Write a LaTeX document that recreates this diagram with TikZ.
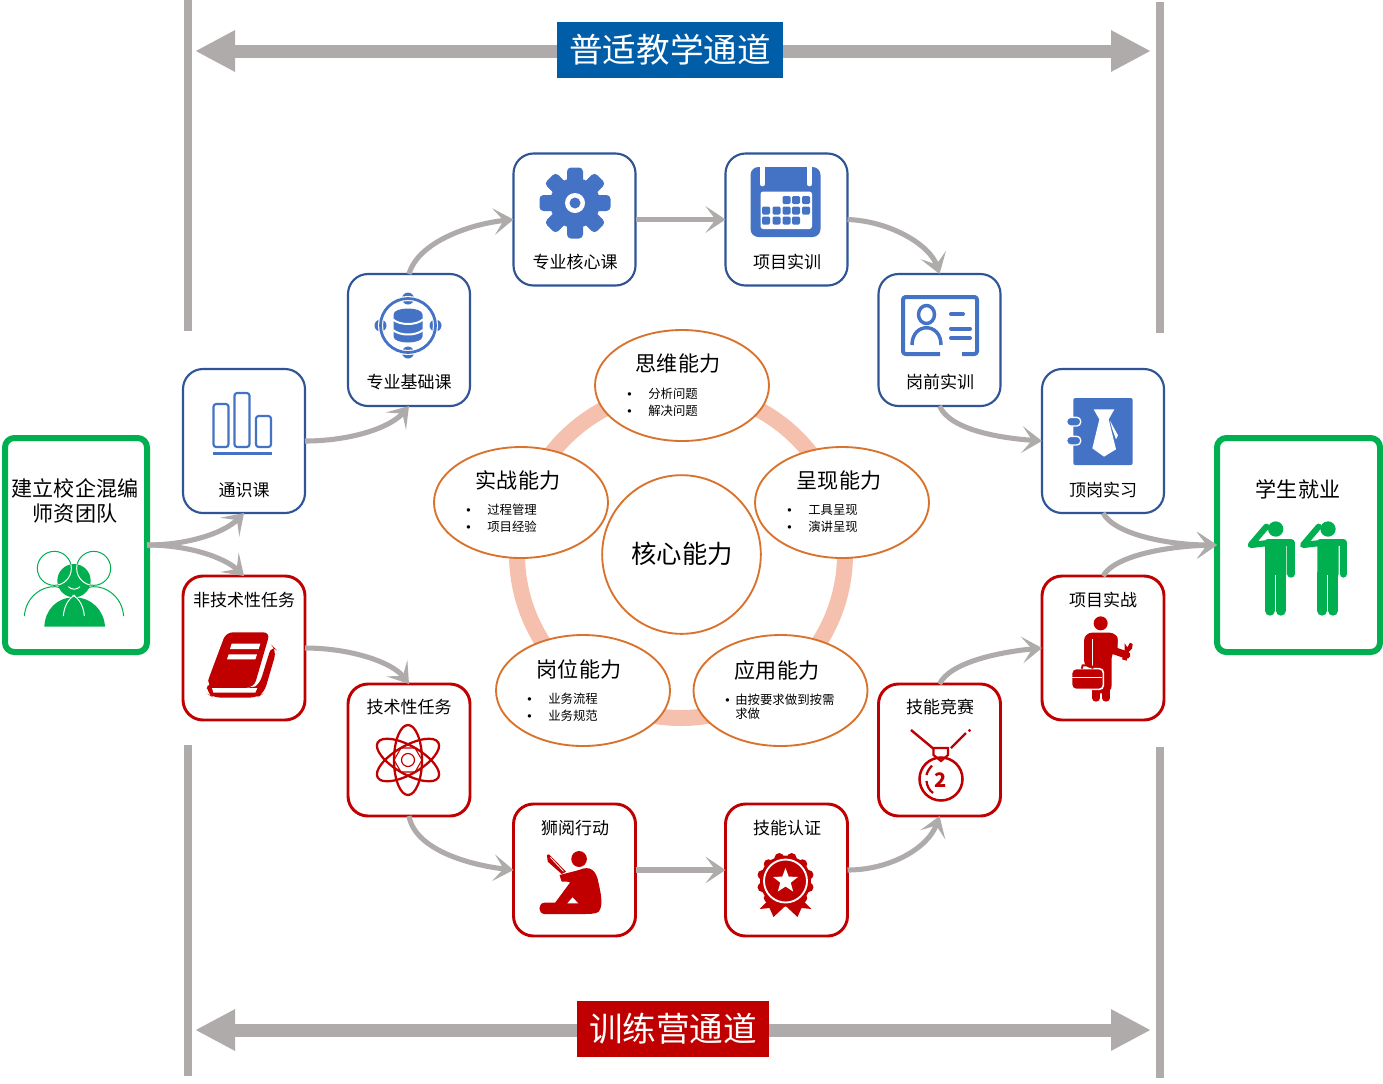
\documentclass[tikz,border=0pt]{standalone}
\usepackage{fontspec}
\setmainfont{Noto Sans CJK SC}
\newfontfamily\latinf{Liberation Sans}
\usetikzlibrary{arrows.meta,shapes.geometric}
\definecolor{grayline}{HTML}{AFABAB}
\definecolor{ringc}{HTML}{F5C0AE}
\definecolor{orangec}{HTML}{D9722C}
\definecolor{bluebd}{HTML}{2F5597}
\definecolor{blueic}{HTML}{4472C4}
\definecolor{redc}{HTML}{C00000}
\definecolor{greenc}{HTML}{00B050}
\definecolor{banblue}{HTML}{005DA8}
\newcommand{\itemrow}[1]{\makebox[15.75pt][l]{\latinf •}#1}
\tikzset{
  bluebox/.style={draw=bluebd,line width=1.6pt,fill=white,rounded corners=15pt,inner sep=0pt,outer sep=0pt},
  redbox/.style={draw=redc,line width=2.2pt,fill=white,rounded corners=15pt,inner sep=0pt,outer sep=0pt},
  greenbox/.style={draw=greenc,line width=4.5pt,fill=white,rounded corners=7pt,inner sep=0pt,outer sep=0pt},
  tallbox/.style={minimum width=91.5pt,minimum height=108pt},
  shortbox/.style={minimum width=91.5pt,minimum height=99pt},
  boxlabel/.style={font=\fontsize{12.75}{15}\selectfont,inner sep=0pt},
  biglabel/.style={font=\fontsize{15.8}{18.75}\selectfont,inner sep=0pt,align=center},
  itemtext/.style={font=\fontsize{9.3}{12.75}\selectfont,inner sep=0pt,align=left,anchor=west},
  capell/.style={shape=ellipse,draw=orangec,line width=1.4pt,fill=white,minimum width=130.5pt,minimum height=83.25pt,inner sep=0pt,outer sep=0pt},
  flow/.style={draw=grayline,line width=3.8pt,-{Stealth[length=15pt,width=20pt,inset=7.5pt]}},
  wide/.style={draw=grayline,line width=9.75pt,{Triangle[length=30pt,width=29pt]}-{Triangle[length=30pt,width=29pt]}},
  bar/.style={draw=grayline,line width=6pt},
  banner/.style={text=white,inner sep=0pt,outer sep=0pt,font=\fontsize{25.2}{30}\selectfont},
}
\begin{document}
\begin{tikzpicture}[x=0.75pt,y=-0.75pt]
\useasboundingbox (0,0) rectangle (1383,1083);
\fill[white] (0,0) rectangle (1383,1083);
% vertical bars
\coordinate (b1a) at (188,0);\coordinate (b1b) at (188,331);
\coordinate (b2a) at (1160,2);\coordinate (b2b) at (1160,333);
\coordinate (b3a) at (188,745);\coordinate (b3b) at (188,1076);
\coordinate (b4a) at (1160,747);\coordinate (b4b) at (1160,1078);
\draw[bar] (b1a)--(b1b); \draw[bar] (b2a)--(b2b); \draw[bar] (b3a)--(b3b); \draw[bar] (b4a)--(b4b);
% wide arrows
\coordinate (ta) at (195,51);\coordinate (tb) at (1151,51);
\coordinate (ua) at (195,1030);\coordinate (ub) at (1151,1030);
\draw[wide] (ta)--(tb); \draw[wide] (ua)--(ub);
\node[banner,fill=banblue,minimum width=169.5pt,minimum height=42pt] (topban) at (670,50) {普适教学通道};
\node[banner,fill=redc,minimum width=144pt,minimum height=42pt] (botban) at (673,1029) {训练营通道};
% ring and capability ellipses
\draw[ringc,line width=12pt] (681,554) circle [radius=164];
\node[capell] (e1) at (682,385.5) {};
\node[capell] (e2) at (521,502.5) {};
\node[capell] (e3) at (842,502.5) {};
\node[capell] (e4) at (583,690.5) {};
\node[capell] (e5) at (780.5,690.5) {};
\node[shape=circle,draw=orangec,line width=1.4pt,fill=white,minimum size=119pt,inner sep=0pt] (core) at (681.5,554.5) {};
\node[inner sep=0pt,font=\fontsize{19}{23}\selectfont] (coret) at (682,554) {核心能力};
\node[biglabel] (e1t) at (678,364) {思维能力};
\node[biglabel] (e2t) at (518,480) {实战能力};
\node[biglabel] (e3t) at (839,480) {呈现能力};
\node[biglabel] (e4t) at (579,669) {岗位能力};
\node[biglabel] (e5t) at (777,670) {应用能力};
\node[itemtext] (e1i) at (627,402.5) {\itemrow{分析问题}\\\itemrow{解决问题}};
\node[itemtext] (e2i) at (466,518.5) {\itemrow{过程管理}\\\itemrow{项目经验}};
\node[itemtext] (e3i) at (787,518.5) {\itemrow{工具呈现}\\\itemrow{演讲呈现}};
\node[itemtext] (e4i) at (527,707) {\itemrow{业务流程}\\\itemrow{业务规范}};
\node[itemtext,font=\fontsize{9.3}{10.5}\selectfont] (e5i) at (725,707) {\makebox[7.5pt][l]{\latinf •}由按要求做到按需\\\hspace*{7.5pt}求做};
% boxes
\node[greenbox,minimum width=106.5pt,minimum height=160.5pt] (lead) at (76,545) {};
\node[greenbox,minimum width=122.25pt,minimum height=160.5pt] (job) at (1298.5,545) {};
\node[bluebox,tallbox] (b1) at (244,441) {};
\node[bluebox,shortbox] (b2) at (409,340) {};
\node[bluebox,shortbox] (b3) at (574.5,219.5) {};
\node[bluebox,shortbox] (b4) at (786.5,219.5) {};
\node[bluebox,shortbox] (b5) at (939.5,340) {};
\node[bluebox,tallbox] (b6) at (1103,441) {};
\node[redbox,tallbox] (r1) at (244,648) {};
\node[redbox,shortbox] (r2) at (409,750) {};
\node[redbox,shortbox] (r3) at (574.5,870) {};
\node[redbox,shortbox] (r4) at (786.5,870) {};
\node[redbox,shortbox] (r5) at (939.5,750) {};
\node[redbox,tallbox] (r6) at (1103,648) {};
% box labels
\node[biglabel] (leadt) at (75,501) {建立校企混编\\师资团队};
\node[biglabel] (jobt) at (1298,489) {学生就业};
\node[boxlabel] (t1) at (244,490) {通识课};
\node[boxlabel] (t2) at (409,382) {专业基础课};
\node[boxlabel] (t3) at (575,262) {专业核心课};
\node[boxlabel] (t4) at (787,262) {项目实训};
\node[boxlabel] (t5) at (940,382) {岗前实训};
\node[boxlabel] (t6) at (1103,490) {顶岗实习};
\node[boxlabel] (t7) at (244,600) {非技术性任务};
\node[boxlabel] (t8) at (409,707) {技术性任务};
\node[boxlabel] (t9) at (575,828) {狮阅行动};
\node[boxlabel] (t10) at (787,828) {技能认证};
\node[boxlabel] (t11) at (940,707) {技能竞赛};
\node[boxlabel] (t12) at (1103,600) {项目实战};
% connectors
\draw[flow] (lead.east) .. controls (190,545) and (225,532) .. (b1.south);
\draw[flow] (lead.east) .. controls (190,545) and (225,558) .. (r1.north);
\draw[flow] (b1.east) .. controls (350,441) and (390,428) .. (b2.south);
\draw[flow] (b2.north) .. controls (418,242) and (470,224) .. (b3.west);
\draw[flow] (b3.east) -- (b4.west);
\draw[flow] (b4.east) .. controls (890,221) and (930,245) .. (b5.north);
\draw[flow] (b5.south) .. controls (950,430) and (1000,438) .. (b6.west);
\draw[flow] (b6.south) .. controls (1115,535) and (1170,545) .. (job.west);
\draw[flow] (r6.north) .. controls (1115,555) and (1170,546) .. (job.west);
\draw[flow] (r1.east) .. controls (350,648) and (392,662) .. (r2.north);
\draw[flow] (r2.south) .. controls (415,850) and (470,865) .. (r3.west);
\draw[flow] (r3.east) -- (r4.west);
\draw[flow] (r4.east) .. controls (890,870) and (928,848) .. (r5.south);
\draw[flow] (r5.north) .. controls (950,662) and (1000,652) .. (r6.west);
% ---- icons ----
% bar chart
\begin{scope}[draw=blueic,line width=1.6pt]
\draw[rounded corners=2pt] (213.5,404) rectangle (228.5,447);
\draw[rounded corners=2pt] (234.5,393) rectangle (249.5,447);
\draw[rounded corners=2pt] (256,416) rectangle (271,447);
\draw[line width=1.6pt] (213,453.5)--(272,453.5);
\end{scope}
% database
\begin{scope}[shift={(408,325.5)}]
\foreach \p in {(0,-27),(0,27),(-27.5,0),(27.5,0)} \fill[blueic] \p circle [radius=6];
\draw[white,line width=3.8pt] (0,0) ellipse [x radius=27.5,y radius=27];
\draw[blueic,line width=2.1pt] (0,0) ellipse [x radius=27.5,y radius=27];
\fill[blueic] (-14.5,-11) .. controls (-14.5,-19) and (14.5,-19) .. (14.5,-11) -- (14.5,11) .. controls (14.5,19) and (-14.5,19) .. (-14.5,11) -- cycle;
\draw[white,line width=1.5pt] (-15,-6) .. controls (-8,0) and (8,0) .. (15,-6);
\draw[white,line width=1.5pt] (-15,4.5) .. controls (-8,10.5) and (8,10.5) .. (15,4.5);
\end{scope}
% gear
\begin{scope}[shift={(575,203)}]
\foreach \a in {0,45,...,315} \fill[blueic,rotate=\a,rounded corners=3pt] (0,-8) -- (35.5,-8) -- (35.5,8) -- (0,8) -- cycle;
\fill[blueic] (0,0) circle [radius=25];
\fill[white] (0,0) circle [radius=10];
\fill[blueic] (0,0) circle [radius=5.5];
\end{scope}
% calendar
\fill[blueic,rounded corners=6pt] (750.5,167) rectangle (820.5,237);
\draw[white,line width=3.5pt,line cap=round] (762.5,162) -- (762.5,184);
\draw[white,line width=3.5pt,line cap=round] (809.5,162) -- (809.5,184);
\fill[white,rounded corners=2pt] (760.5,191.5) rectangle (812,229);
\foreach \x/\y in {786.5/200,796/200,806/200,766/210.5,776.5/210.5,786.5/210.5,796/210.5,806/210.5,766/220.5,776.5/220.5,786.5/220.5,796/220.5}
  \fill[blueic,rounded corners=1pt] (\x-4,\y-4) rectangle (\x+4,\y+4);
% ID card
\begin{scope}[draw=blueic]
\draw[line width=3pt,line join=round,rounded corners=2pt] (940,354) -- (903,354) -- (903,297) -- (977,297) -- (977,354) -- (962,354);
\draw[line width=2.6pt] (926.5,314.5) ellipse [x radius=8,y radius=9];
\draw[line width=2.6pt] (912,345) .. controls (912,322) and (941,322) .. (941,345);
\draw[line width=3pt,line cap=round] (951,314) -- (963,314);
\draw[line width=3pt,line cap=round] (951,328.5) -- (970,328.5);
\draw[line width=3pt,line cap=round] (951,338) -- (970,338);
\end{scope}
% tie notebook
\begin{scope}[shift={(1030,360)},x=.25pt,y=-.25pt]
\fill[blueic,rounded corners=1.5pt] (130,114) rectangle (308,315);
\foreach \yy in {185,242} {
  \draw[white,line width=1pt,fill=blueic,rounded corners=2.9pt] (110,\yy-13) rectangle (152,\yy+13);
}
\fill[white] (191,148) -- (253,148) -- (236,178) -- (258,268) -- (222,290) -- (187,265) -- (208,178) -- cycle;
\fill[white] (240,182) -- (264,226) -- (258,238) -- (246,205) -- cycle;
\end{scope}
% two saluting figures
\begin{scope}[shift={(1030,360)},x=.25pt,y=-.25pt]
\foreach \dx in {0,157} {
\begin{scope}[shift={(\dx,0)},x=.25pt,y=-.25pt]
\fill[greenc] (737,507) circle [radius=23];
\fill[greenc,rounded corners=2pt] (705,537) rectangle (769,650);
\draw[greenc,line width=4.6pt,line cap=round,line join=round] (715,549) -- (662,555) -- (709,500);
\draw[greenc,line width=5.5pt,line cap=round,line join=round] (760,548) -- (783,548) -- (783,642);
\draw[greenc,line width=7.5pt,line cap=round] (720,640) -- (720,752);
\draw[greenc,line width=7.5pt,line cap=round] (752,640) -- (752,752);
\draw[white,line width=.7pt] (736,645) -- (736,770);
\end{scope}
}
\end{scope}
% repair man
\begin{scope}[shift={(1030,360)},x=.25pt,y=-.25pt]
\fill[redc] (212,790) circle [radius=21];
\fill[redc,rounded corners=6pt] (162,925) -- (162,818) -- (263,818) -- (263,870) -- (245,870) -- (245,1000) -- (185,1000) -- (185,925) -- cycle;
\draw[redc,line width=5.5pt,line cap=round] (198,960) -- (198,1014);
\draw[redc,line width=5.5pt,line cap=round] (228,960) -- (228,1014);
\draw[redc,line width=5.5pt,line join=round,line cap=round] (252,835) -- (252,872) -- (290,885);
\fill[redc] (284,850) -- (292,862) -- (300,848) -- (308,852) -- (306,866) -- (296,876) -- (290,902) -- (276,898) -- (284,874) -- cycle;
\fill[white] (185,836) rectangle (187,920);
\draw[white,line width=1.2pt,fill=redc,rounded corners=3pt] (125,926) rectangle (220,988);
\draw[redc,line width=1.4pt] (155,926) -- (158,916) -- (184,916) -- (188,926);
\draw[white,line width=.8pt] (127,952) -- (217,952);
\end{scope}
% book
\begin{scope}[shift={(0,360)},x=.25pt,y=-.25pt]
\fill[redc,rounded corners=5pt] (678,817) -- (810,817) -- (762,982) -- (640,982) -- (620,975) -- (630,945) -- cycle;
\fill[redc,rounded corners=6pt] (622,965) -- (620,1000) -- (640,1013) -- (770,1013) -- (792,1000) -- (830,870) -- (815,855) -- (778,975) -- (760,985) -- cycle;
\fill[white] (636,984) -- (772,984) -- (766,998) -- (640,998) -- cycle;
\fill[white] (695,851) -- (781,851) -- (776,867) -- (690,867) -- cycle;
\fill[white] (686,883) -- (771,883) -- (766,898) -- (681,898) -- cycle;
\end{scope}
% atom
\begin{scope}[shift={(408,760)}]
\foreach \r in {90,30,-30} \draw[redc,line width=1.7pt,rotate=\r] (0,0) ellipse [x radius=35,y radius=14];
\draw[redc,line width=.9pt] (0,0) circle [radius=6.5];
\draw[redc,line width=.8pt] (-14,0) -- (-7,-12) -- (7,-12) -- (14,0) -- (7,12) -- (-7,12) -- cycle;
\end{scope}
% reader
\begin{scope}[shift={(340,680)},x=.326pt,y=-.25pt]
\fill[redc] (550,537) ellipse [x radius=18,y radius=24];
\fill[redc] (505,585) -- (550,570) .. controls (575,555) and (590,570) .. (595,610) .. controls (602,650) and (605,680) .. (595,695) .. controls (590,702) and (570,702) .. (560,702) -- (470,702) .. controls (455,700) and (455,670) .. (470,668) -- (495,668) -- (525,615) .. controls (530,605) and (535,605) .. (510,605) -- cycle;
\fill[white] (523,670) -- (548,670) -- (535,652) -- cycle;
\fill[redc] (476,525) -- (481,523) -- (520,575) -- (510,582) -- (478,545) -- cycle;
\draw[white,line width=.6pt] (484,532) -- (514,574);
\end{scope}
% rosette
\begin{scope}[shift={(785.5,881)}]
\fill[redc] (-13,15) -- (-26,28) -- (-16,27) -- (-12,36) -- (3,22) -- cycle;
\fill[redc] (13,15) -- (26,28) -- (16,27) -- (12,36) -- (-3,22) -- cycle;
\foreach \a in {15,45,...,345} \fill[redc] (\a:24) circle [radius=4.8];
\fill[redc] (0,0) circle [radius=25.5];
\draw[white,line width=1.4pt] (0,0) circle [radius=21.5];
\fill[white] (-90:13) -- (-54:5.5) -- (-18:13) -- (18:5.5) -- (54:13) -- (90:5.5) -- (126:13) -- (162:5.5) -- (198:13) -- (234:5.5) -- cycle;
\end{scope}
% medal
\begin{scope}[draw=redc]
\draw[line width=1.8pt] (911,730) -- (935,750);
\draw[line width=1.8pt] (951,748) -- (966,733);
\fill[redc] (969.5,730.5) circle [radius=1.6];
\draw[line width=1.6pt,fill=white] (933.5,748) -- (948,748) -- (948,755) -- (941,761) -- (933.5,755) -- cycle;
\draw[line width=1.9pt] (941,779) circle [radius=21.5];
\draw[line width=1.7pt] (932,765.5) .. controls (929,769) and (927,772) .. (926.5,775);
\draw[line width=1.7pt] (926.5,781) .. controls (927,786) and (929,790) .. (933,793);
\node[inner sep=0pt,text=redc,font=\fontsize{15}{18}\bfseries\selectfont] (medal2) at (941,780) {2};
\end{scope}
% team
\begin{scope}[shift={(0,360)},x=.25pt,y=-.25pt]
\draw[greenc,line width=.75pt] (163,625) circle [radius=51];
\draw[greenc,line width=.75pt] (281,625) circle [radius=51];
\draw[greenc,line width=.75pt] (73,768) .. controls (78,710) and (125,678) .. (165,680) .. controls (190,682) and (215,700) .. (235,735);
\draw[greenc,line width=.75pt] (371,768) .. controls (366,710) and (319,678) .. (279,680) .. controls (254,682) and (229,700) .. (209,735);
\fill[greenc] (222,662) circle [radius=50];
\fill[greenc] (133,800) .. controls (135,750) and (170,712) .. (222,712) .. controls (274,712) and (312,750) .. (315,800) -- cycle;
\begin{scope}
\clip (222,662) circle [radius=50];
\draw[white,line width=.75pt] (163,625) circle [radius=51];
\draw[white,line width=.75pt] (281,625) circle [radius=51];
\end{scope}
\draw[white,line width=.75pt] (205,680) .. controls (215,690) and (230,690) .. (240,680);
\draw[white,line width=.75pt] (190,768) .. controls (192,740) and (205,715) .. (225,705);
\draw[white,line width=.75pt] (253,768) .. controls (251,740) and (238,715) .. (218,705);
\end{scope}
\end{tikzpicture}
\end{document}
